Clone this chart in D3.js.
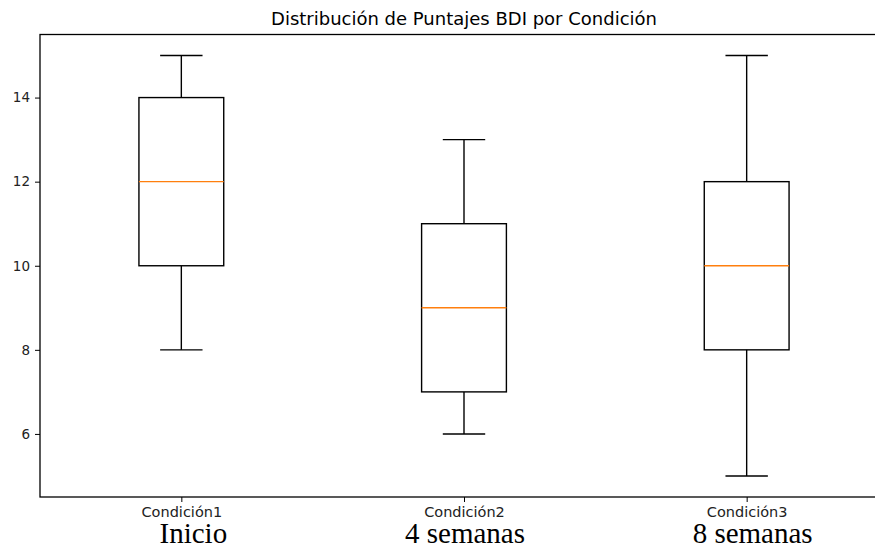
<!DOCTYPE html>
<html><head><meta charset="utf-8">
<script src="https://cdn.jsdelivr.net/npm/d3@7"></script>
<style>body{margin:0;background:#fff}svg{display:block}</style>
</head><body><svg id="c" width="875" height="549"></svg>
<script>
const categories = ["Condición1","Condición2","Condición3"];
const subLabels = ["Inicio","4 semanas","8 semanas"];
const whiskerLow = [8,6,5];
const q1 = [10,7,8];
const median = [12,9,10];
const q3 = [14,11,12];
const whiskerHigh = [15,13,15];
const yTicks = [6,8,10,12,14];
const title = "Distribución de Puntajes BDI por Condición";

const svg = d3.select("#c");
const L=40, R=888, T=34.5, B=497;
const x = d3.scaleLinear().domain([0.5,3.5]).range([L,R]);
const y = d3.scaleLinear().domain([4.5,15.5]).range([B,T]);
const font = "'DejaVu Sans', sans-serif";
// layout: horizontal nudges of the free-standing sub labels (px)
const subNudge = [12, 1, 6];

// axes
const ya = svg.append("g").attr("transform",`translate(${L},0)`)
  .call(d3.axisLeft(y).tickValues(yTicks).tickSize(5).tickPadding(5).tickFormat(d3.format("d")));
ya.select(".domain").remove();
ya.selectAll("text").attr("font-family",font).attr("font-size",13.5).attr("fill","#222");
ya.selectAll("line").attr("stroke","#000").attr("stroke-width",1);

const xa = svg.append("g").attr("transform",`translate(0,${B})`)
  .call(d3.axisBottom(x).tickValues([1,2,3]).tickSize(5).tickPadding(5).tickFormat((d,i)=>categories[i]));
xa.select(".domain").remove();
xa.selectAll("text").attr("font-family",font).attr("font-size",14.5).attr("fill","#222");
xa.selectAll("line").attr("stroke","#000").attr("stroke-width",1);

// spines
svg.append("rect").attr("x",L).attr("y",T).attr("width",R-L).attr("height",B-T)
  .attr("fill","none").attr("stroke","#000").attr("stroke-width",1.3);

// boxes
const hw = 0.15;
const g = svg.append("g").attr("stroke","#000").attr("stroke-width",1.4).attr("fill","none");
categories.forEach((c,i)=>{
  const p=i+1;
  g.append("rect").attr("x",x(p-hw)).attr("y",y(q3[i])).attr("width",x(p+hw)-x(p-hw)).attr("height",y(q1[i])-y(q3[i]));
  g.append("line").attr("x1",x(p)).attr("x2",x(p)).attr("y1",y(q1[i])).attr("y2",y(whiskerLow[i]));
  g.append("line").attr("x1",x(p)).attr("x2",x(p)).attr("y1",y(q3[i])).attr("y2",y(whiskerHigh[i]));
  g.append("line").attr("x1",x(p-hw/2)).attr("x2",x(p+hw/2)).attr("y1",y(whiskerLow[i])).attr("y2",y(whiskerLow[i]));
  g.append("line").attr("x1",x(p-hw/2)).attr("x2",x(p+hw/2)).attr("y1",y(whiskerHigh[i])).attr("y2",y(whiskerHigh[i]));
  g.append("line").attr("x1",x(p-hw)).attr("x2",x(p+hw)).attr("y1",y(median[i])).attr("y2",y(median[i])).attr("stroke","#ff7f0e");
  svg.append("text").attr("x",x(p)+subNudge[i]).attr("y",543).attr("text-anchor","middle")
    .attr("font-family","'Liberation Serif', 'Times New Roman', serif").attr("font-size",29).attr("fill","#000").text(subLabels[i]);
});

svg.append("text").attr("x",(L+R)/2).attr("y",25).attr("text-anchor","middle")
  .attr("font-family",font).attr("font-size",18).attr("fill","#000").text(title);
</script></body></html>
